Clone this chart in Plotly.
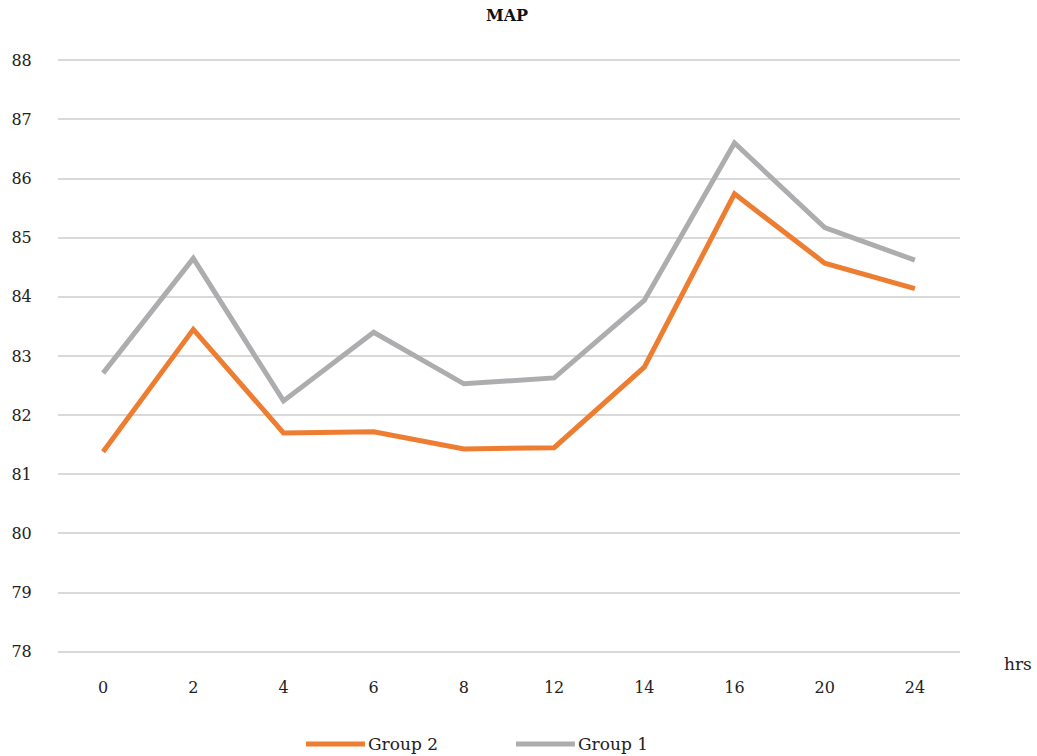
import plotly.graph_objects as go

# Mean arterial pressure by time point (hours)
hours = ["0", "2", "4", "6", "8", "12", "14", "16", "20", "24"]
group2 = [81.38, 83.45, 81.70, 81.72, 81.43, 81.45, 82.81, 85.74, 84.57, 84.14]
group1 = [82.71, 84.65, 82.24, 83.40, 82.53, 82.63, 83.94, 86.60, 85.17, 84.62]
y_ticks = [78, 79, 80, 81, 82, 83, 84, 85, 86, 87, 88]

ORANGE = "#ED7D31"
GRAY = "#ADADB0"
FONT = "DejaVu Serif"
TXT = "#222"

W, H = 1037, 756
L, R, T, B = 58, 77, 59, 103
plot_w = W - L - R
plot_h = H - T - B

fig = go.Figure()
fig.add_trace(go.Scatter(x=hours, y=group2, mode="lines", name="Group 2",
                         line=dict(color=ORANGE, width=5), showlegend=False))
fig.add_trace(go.Scatter(x=hours, y=group1, mode="lines", name="Group 1",
                         line=dict(color=GRAY, width=5), showlegend=False))


def px_x(p):
    return (p - L) / plot_w


def px_y(p):
    return (H - B - p) / plot_h


# Legend drawn below the plot: line sample plus label
legend_items = [("Group 2", ORANGE, 306), ("Group 1", GRAY, 516)]
shapes = []
annotations = []
for label, color, x0 in legend_items:
    shapes.append(dict(type="line", xref="paper", yref="paper",
                       x0=px_x(x0), x1=px_x(x0 + 59), y0=px_y(744), y1=px_y(744),
                       line=dict(color=color, width=5)))
    annotations.append(dict(text=label, xref="paper", yref="paper",
                            x=px_x(x0 + 60), y=px_y(744), xanchor="left", yanchor="middle",
                            showarrow=False, font=dict(family=FONT, size=17, color=TXT)))

annotations.append(dict(text="hrs", xref="paper", yref="paper",
                        x=px_x(1002), y=px_y(664), xanchor="left", yanchor="middle",
                        showarrow=False, font=dict(family=FONT, size=17, color=TXT)))

fig.update_layout(
    width=W, height=H,
    margin=dict(l=L, r=R, t=T, b=B, autoexpand=False),
    paper_bgcolor="white", plot_bgcolor="white",
    title=dict(text="<b>MAP</b>", xref="container", x=507 / W, xanchor="center",
               yref="container", y=1 - 15 / H, yanchor="middle",
               font=dict(family=FONT, size=16, color="#111")),
    font=dict(family=FONT, size=16, color=TXT),
    xaxis=dict(type="category", range=[-0.5, 9.5], showgrid=False, zeroline=False,
               showline=False, ticks="outside", ticklen=20, tickcolor="rgba(0,0,0,0)",
               automargin=False, tickfont=dict(family=FONT, size=16, color=TXT)),
    yaxis=dict(range=[77.98, 88.02], tickvals=y_ticks, showgrid=True, gridcolor="#D9D9D9",
               gridwidth=1.5, zeroline=False, showline=False, ticks="outside", ticklen=22,
               tickcolor="rgba(0,0,0,0)", automargin=False,
               tickfont=dict(family=FONT, size=16, color=TXT)),
    shapes=shapes, annotations=annotations,
)

fig.write_html("out.html")
